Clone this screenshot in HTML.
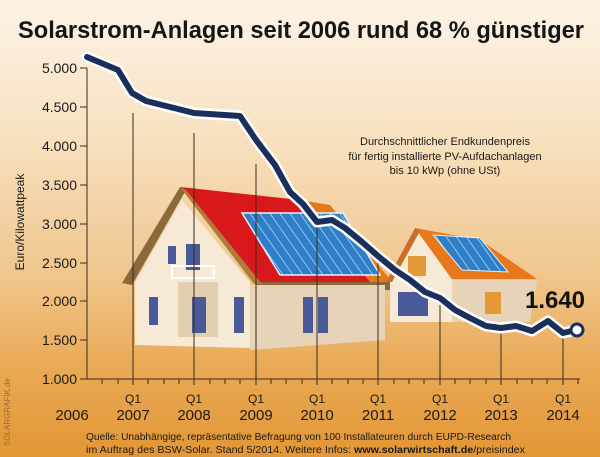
<!DOCTYPE html>
<html><head><meta charset="utf-8"><style>
html,body{margin:0;padding:0;}
body{width:600px;height:457px;overflow:hidden;}
svg{display:block;font-family:"Liberation Sans",sans-serif;}
</style></head><body>
<svg width="600" height="457" viewBox="0 0 600 457" xmlns="http://www.w3.org/2000/svg">
<defs>
<linearGradient id="bg" x1="0" y1="0" x2="0" y2="1">
<stop offset="0" stop-color="#fcf3e6"/>
<stop offset="0.3" stop-color="#f8e1c0"/>
<stop offset="0.6" stop-color="#f0c68d"/>
<stop offset="0.8" stop-color="#e9aa56"/>
<stop offset="1" stop-color="#e39634"/>
</linearGradient>
<pattern id="pv" width="10" height="10" patternUnits="userSpaceOnUse" patternTransform="skewX(35)">
<rect width="10" height="10" fill="#2f7ec8"/>
<rect width="1" height="10" fill="#a8d0f0"/>
</pattern>
</defs>
<rect width="600" height="457" fill="url(#bg)"/>
<text x="18" y="38" textLength="566" lengthAdjust="spacingAndGlyphs" font-size="24" font-weight="bold" fill="#151515">Solarstrom-Anlagen seit 2006 rund 68 % günstiger</text>

<!-- big house -->
<polygon points="180,187 300,200 392,282 255,282" fill="#d8181a"/>
<polygon points="300,200 330,205 392,282 370,282" fill="#e07a1a"/>
<polygon points="255,282 392,282 392,290 258,290" fill="#8a6a3a"/>
<polygon points="135,282 182,200 250,282 250,348 135,345" fill="#f6ead6"/>
<polygon points="250,285 385,285 385,340 250,350" fill="#e6d3b8"/>
<polygon points="122,283 180,187 186,190 132,285" fill="#8a6a3a"/>
<polygon points="180,187 186,190 262,284 254,284" fill="#b07a3a"/>
<polygon points="242,213 343,213 380,275 280,275" fill="url(#pv)" stroke="#e6f0fa" stroke-width="1.5"/>
<rect x="168" y="246" width="8" height="18" fill="#4a5a98"/>
<rect x="186" y="244" width="14" height="26" fill="#4a5a98"/>
<rect x="172" y="266" width="42" height="12" fill="none" stroke="#fff" stroke-width="2"/>
<rect x="178" y="282" width="40" height="55" fill="#e2cfb0"/>
<rect x="149" y="297" width="9" height="28" fill="#4a5a98"/>
<rect x="192" y="297" width="14" height="36" fill="#4a5a98"/>
<rect x="234" y="297" width="10" height="36" fill="#4a5a98"/>
<rect x="303" y="297" width="10" height="36" fill="#4a5a98"/>
<rect x="318" y="297" width="10" height="36" fill="#4a5a98"/>

<!-- small house -->
<polygon points="415,228 480,240 537,279 452,279" fill="#e8781c"/>
<polygon points="390,280 415,228 452,280 452,322 390,322" fill="#f6ead6"/>
<polygon points="452,280 537,280 530,322 452,322" fill="#e6d3b8"/>
<polygon points="386,282 415,228 420,231 392,282" fill="#c8702a"/>
<polygon points="433,235 480,238 508,272 462,270" fill="url(#pv)" stroke="#e6f0fa" stroke-width="1"/>
<rect x="408" y="256" width="18" height="20" fill="#e59a3a"/>
<rect x="398" y="292" width="30" height="24" fill="#4a5a98"/>
<rect x="485" y="292" width="16" height="22" fill="#e59a3a"/>

<!-- axes -->
<g stroke="#3a2a1a" stroke-width="1">
<line x1="87" y1="68" x2="87" y2="379"/>
<line x1="87" y1="379" x2="580" y2="379"/>
<line x1="80" y1="68" x2="87" y2="68"/><line x1="80" y1="107" x2="87" y2="107"/>
<line x1="80" y1="146" x2="87" y2="146"/><line x1="80" y1="185" x2="87" y2="185"/>
<line x1="80" y1="224" x2="87" y2="224"/><line x1="80" y1="263" x2="87" y2="263"/>
<line x1="80" y1="301" x2="87" y2="301"/><line x1="80" y1="340" x2="87" y2="340"/>
<line x1="80" y1="379" x2="87" y2="379"/>
<line x1="133" y1="113" x2="133" y2="385"/>
<line x1="194" y1="133" x2="194" y2="385"/>
<line x1="256" y1="164" x2="256" y2="385"/>
<line x1="317" y1="225" x2="317" y2="385"/>
<line x1="378" y1="258" x2="378" y2="385"/>
<line x1="440" y1="300" x2="440" y2="385"/>
<line x1="501" y1="330" x2="501" y2="385"/>
<line x1="563" y1="335" x2="563" y2="385"/>
<path d="M102,379v5M118,379v5M148,379v5M164,379v5M179,379v5M210,379v5M225,379v5M240,379v5M271,379v5M286,379v5M302,379v5M332,379v5M348,379v5M363,379v5M394,379v5M409,379v5M424,379v5M455,379v5M470,379v5M486,379v5M517,379v5M532,379v5M547,379v5M578,379v5"/>
</g>
<g font-size="14" fill="#1a1a1a" text-anchor="end">
<text x="77" y="73">5.000</text><text x="77" y="112">4.500</text>
<text x="77" y="151">4.000</text><text x="77" y="190">3.500</text>
<text x="77" y="229">3.000</text><text x="77" y="268">2.500</text>
<text x="77" y="306">2.000</text><text x="77" y="345">1.500</text>
<text x="77" y="384">1.000</text>
</g>
<text transform="translate(24,222) rotate(-90)" text-anchor="middle" font-size="12" fill="#1a1a1a">Euro/Kilowattpeak</text>
<text transform="translate(10,412) rotate(-90)" text-anchor="middle" font-size="8" fill="#9a6a3a">SOLARGRAFIK.de</text>
<g font-size="12" fill="#1a1a1a" text-anchor="middle">
<text x="133" y="403">Q1</text><text x="194" y="403">Q1</text><text x="256" y="403">Q1</text><text x="317" y="403">Q1</text>
<text x="378" y="403">Q1</text><text x="440" y="403">Q1</text><text x="501" y="403">Q1</text><text x="563" y="403">Q1</text>
</g>
<g font-size="15" fill="#1a1a1a" text-anchor="middle">
<text x="72" y="420">2006</text><text x="133" y="420">2007</text><text x="194" y="420">2008</text><text x="256" y="420">2009</text>
<text x="317" y="420">2010</text><text x="378" y="420">2011</text><text x="440" y="420">2012</text><text x="501" y="420">2013</text><text x="563" y="420">2014</text>
</g>
<g font-size="10.5" fill="#1a1a1a">
<text x="86" y="440" textLength="425" lengthAdjust="spacingAndGlyphs">Quelle: Unabhängige, repräsentative Befragung von 100 Installateuren durch EUPD-Research</text>
<text x="86" y="453" textLength="439" lengthAdjust="spacingAndGlyphs">im Auftrag des BSW-Solar. Stand 5/2014.     Weitere Infos: <tspan font-weight="bold">www.solarwirtschaft.de</tspan>/preisindex</text>
</g>
<g font-size="11" fill="#1a1a1a" text-anchor="middle">
<text x="445" y="145">Durchschnittlicher Endkundenpreis</text>
<text x="445" y="160">für fertig installierte  PV-Aufdachanlagen</text>
<text x="445" y="174">bis 10 kWp (ohne USt)</text>
</g>

<!-- series -->
<g fill="none" stroke-linejoin="round" stroke-linecap="round">
<polyline stroke="#fff" stroke-width="11" points="87,57 118,70 132,93 146,101 194,113 240,116 256,140 275,165 290,192 303,204 317,222 332,220 345,228 362,242 378,256 395,270 410,280 425,292 440,298 455,310 470,318 486,326 501,328 516,326 532,331 548,321 563,333 576,330"/>
<polyline stroke="#1b2f5c" stroke-width="6" points="87,57 118,70 132,93 146,101 194,113 240,116 256,140 275,165 290,192 303,204 317,222 332,220 345,228 362,242 378,256 395,270 410,280 425,292 440,298 455,310 470,318 486,326 501,328 516,326 532,331 548,321 563,333 576,330"/>
</g>
<circle cx="577" cy="330" r="6" fill="#fff" stroke="#1b2f5c" stroke-width="3"/>
<text x="555" y="308" text-anchor="middle" font-size="24" font-weight="bold" fill="#111">1.640</text>
</svg>
</body></html>
